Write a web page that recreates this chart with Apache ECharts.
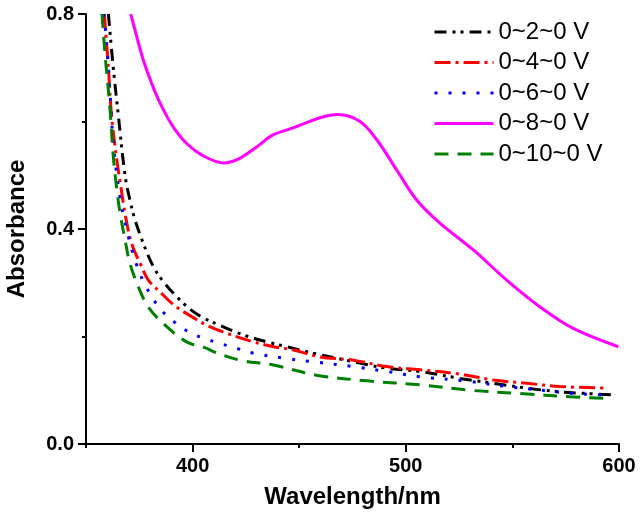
<!DOCTYPE html>
<html>
<head>
<meta charset="utf-8">
<title>Absorbance</title>
<script src="https://cdn.jsdelivr.net/npm/echarts@6.0.0/dist/echarts.min.js"></script>
<style>
html, body { margin: 0; padding: 0; background: #fff; }
#chartArea { width: 640px; height: 515px; }
</style>
</head>
<body>
<div id="chartArea"></div>
<script>
// series names (legend order)
var names = ['0~2~0 V', '0~4~0 V', '0~6~0 V', '0~8~0 V', '0~10~0 V'];

// 0~2~0 V
var wl2 = [360.5, 362.8, 365.2, 368.3, 370.6, 373, 376.9, 381.6, 386.3, 394.8, 402.7, 414.4, 423.8, 434.8, 444.1, 456.6, 475.4, 491, 506.7, 525.4, 541, 556.7, 572.3, 584.8, 598];
var abs2 = [0.80, 0.70, 0.61, 0.50, 0.454, 0.417, 0.373, 0.330, 0.302, 0.265, 0.240, 0.218, 0.203, 0.190, 0.181, 0.169, 0.153, 0.141, 0.135, 0.122, 0.113, 0.104, 0.097, 0.094, 0.091];

// 0~4~0 V
var wl4 = [358.6, 360.5, 362, 364.4, 366, 368.3, 371.4, 376.1, 379.2, 385.5, 391.7, 399.6, 406.6, 416, 428.5, 437.9, 447.3, 459.8, 475.4, 491, 506.7, 525.4, 541, 556.7, 572.3, 594];
var abs4 = [0.80, 0.70, 0.61, 0.53, 0.488, 0.429, 0.373, 0.330, 0.305, 0.280, 0.257, 0.237, 0.221, 0.206, 0.190, 0.181, 0.175, 0.162, 0.156, 0.144, 0.138, 0.130, 0.119, 0.113, 0.107, 0.104];

// 0~6~0 V
var wl6 = [358.4, 359.7, 361.3, 362.8, 366, 369.1, 373, 377.7, 384.7, 391.7, 398.8, 405, 412.9, 420.7, 428.5, 444.1, 456.6, 475.4, 491, 506.7, 528.5, 547.3, 566, 578.6, 594];
var abs6 = [0.80, 0.745, 0.652, 0.56, 0.457, 0.398, 0.342, 0.296, 0.252, 0.226, 0.207, 0.197, 0.187, 0.178, 0.169, 0.159, 0.153, 0.144, 0.135, 0.125, 0.117, 0.107, 0.099, 0.094, 0.091];

// 0~8~0 V
var wl8 = [371, 373.8, 376.9, 380.8, 385.5, 390.9, 397.2, 405, 414.4, 421.4, 430.2, 437.7, 447.1, 459.8, 468.2, 478.5, 486.4, 495.7, 505.1, 516, 531.7, 547.3, 563, 578.6, 599.7];
var abs8 = [0.80, 0.758, 0.714, 0.671, 0.628, 0.590, 0.559, 0.536, 0.523, 0.530, 0.553, 0.575, 0.588, 0.607, 0.613, 0.600, 0.566, 0.510, 0.454, 0.411, 0.361, 0.305, 0.255, 0.215, 0.181];

// 0~10~0 V
var wl10 = [357.5, 358.9, 361.3, 362.8, 364.4, 366, 368.3, 370.6, 374.5, 379.2, 387.1, 397.2, 406.6, 409.7, 422.2, 437.9, 458.2, 483.2, 506.7, 530.1, 553.6, 577, 593];
var abs10 = [0.80, 0.727, 0.621, 0.535, 0.475, 0.429, 0.380, 0.336, 0.293, 0.255, 0.221, 0.190, 0.178, 0.172, 0.156, 0.147, 0.128, 0.117, 0.110, 0.100, 0.094, 0.088, 0.085];

// axis ticks
var xLabelTicks = [400, 500, 600];
var xMinorTicks = [350, 450, 550];

var fontName = 'Arial, "Liberation Sans", sans-serif';

function pairs(xs, ys){
	var out = [];
	for(var i = 0; i < xs.length; i++){
		out.push([xs[i], ys[i]]);
	}
	return out;
}

function makeSeries(name, xs, ys, color, dash){
	return {
		name: name,
		type: 'line',
		xAxisIndex: 0,
		symbol: 'none',
		smooth: 0.35,
		clip: true,
		lineStyle: {
			color: color,
			width: 3,
			type: dash,
			cap: 'butt'
		},
		itemStyle: { color: color },
		data: pairs(xs, ys)
	};
}

function drawChart(){
	var myChart = echarts.init(document.getElementById('chartArea'));
	var option = {
		animation: false,
		backgroundColor: '#fff',
		grid: {
			left: 86,
			right: 21,
			top: 14,
			bottom: 71,
			containLabel: false,
			outerBoundsMode: 'none'
		},
		legend: {
			orient: 'vertical',
			left: 428,
			top: 13,
			itemWidth: 59,
			itemHeight: 1,
			itemGap: 2.5,
			data: names,
			itemStyle: { opacity: 0 },
			lineStyle: { width: 3 },
			textStyle: {
				fontSize: 24,
				lineHeight: 28,
				fontFamily: fontName,
				color: '#000'
			}
		},
		xAxis: [{
			type: 'value',
			min: 350,
			max: 600,
			interval: 50,
			name: 'Wavelength/nm',
			nameLocation: 'middle',
			nameGap: 41,
			nameTextStyle: { fontSize: 24, fontWeight: 'bold', fontFamily: fontName, color: '#000' },
			axisLine: { show: true, lineStyle: { color: '#000', width: 2 } },
			axisTick: { show: true, inside: false, length: 8, customValues: xLabelTicks, lineStyle: { color: '#000', width: 2 } },
			axisLabel: { show: true, margin: 12, customValues: xLabelTicks, fontSize: 20, fontWeight: 'bold', fontFamily: fontName, color: '#000' },
			splitLine: { show: false }
		}, {
			type: 'value',
			position: 'bottom',
			min: 350,
			max: 600,
			interval: 50,
			axisLine: { show: false },
			axisTick: { show: true, inside: false, length: 4, customValues: xMinorTicks, lineStyle: { color: '#000', width: 2 } },
			axisLabel: { show: false },
			splitLine: { show: false }
		}],
		yAxis: [{
			type: 'value',
			min: 0,
			max: 0.8,
			interval: 0.4,
			name: 'Absorbance',
			nameLocation: 'middle',
			nameGap: 57,
			nameTextStyle: { fontSize: 24, fontWeight: 'bold', fontFamily: fontName, color: '#000' },
			axisLine: { show: true, lineStyle: { color: '#000', width: 2 } },
			axisTick: { show: true, inside: false, length: 8, lineStyle: { color: '#000', width: 2 } },
			minorTick: { show: true, splitNumber: 2, length: 4, lineStyle: { color: '#000', width: 2 } },
			axisLabel: {
				margin: 12,
				fontSize: 20,
				fontWeight: 'bold',
				fontFamily: fontName,
				color: '#000',
				formatter: function(v){ return v.toFixed(1); }
			},
			splitLine: { show: false }
		}],
		series: [
			makeSeries(names[0], wl2, abs2, '#000000', [12, 6, 3, 5, 3, 6]),
			makeSeries(names[1], wl4, abs4, '#ff0000', [16, 5, 3, 5]),
			makeSeries(names[2], wl6, abs6, '#0000ff', [3, 11]),
			makeSeries(names[3], wl8, abs8, '#ff00ff', 'solid'),
			makeSeries(names[4], wl10, abs10, '#008000', [14, 9])
		]
	};
	myChart.setOption(option);
}

drawChart();
</script>
</body>
</html>
